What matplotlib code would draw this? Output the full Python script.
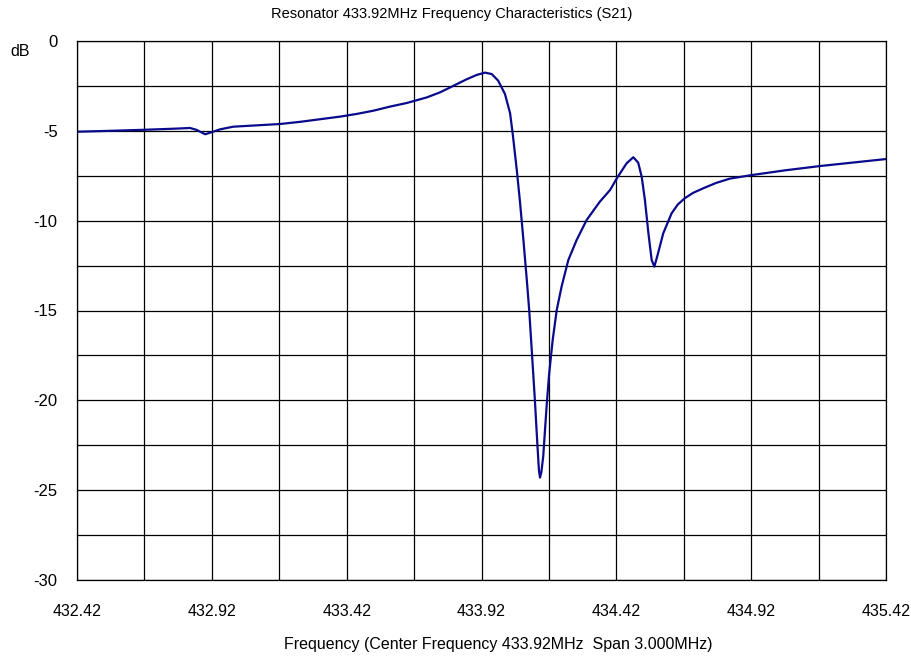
import matplotlib
matplotlib.use("Agg")
import matplotlib.pyplot as plt
import numpy as np

plt.rcParams['font.family'] = ['Liberation Sans Narrow', 'Liberation Sans', 'DejaVu Sans']

# Frequency (MHz) and S21 (dB)
freq = [432.420, 432.542, 432.672, 432.783, 432.839, 432.864, 432.895, 432.919,
        432.950, 432.999, 433.173, 433.247, 433.395, 433.457, 433.519, 433.581,
        433.643, 433.717, 433.766, 433.815, 433.865, 433.902, 433.933, 433.958,
        433.982, 434.007, 434.026, 434.036, 434.051, 434.063, 434.075, 434.088,
        434.097, 434.108, 434.118, 434.127, 434.133, 434.137, 434.142, 434.149,
        434.162, 434.171, 434.184, 434.199, 434.217, 434.242, 434.273, 434.310,
        434.359, 434.397, 434.424, 434.458, 434.483, 434.501, 434.514, 434.526,
        434.539, 434.551, 434.561, 434.573, 434.594, 434.625, 434.648, 434.674,
        434.705, 434.742, 434.790, 434.841, 434.923, 435.045, 435.175, 435.420]
s21 = [-5.05, -5.00, -4.94, -4.88, -4.84, -4.95, -5.19, -5.08,
       -4.92, -4.77, -4.62, -4.50, -4.21, -4.06, -3.88, -3.65,
       -3.45, -3.14, -2.86, -2.50, -2.13, -1.89, -1.76, -1.84,
       -2.21, -2.95, -4.02, -5.20, -7.20, -9.00, -11.00, -13.30,
       -15.00, -17.60, -20.00, -22.40, -23.90, -24.30, -24.00, -23.10,
       -20.20, -18.50, -16.64, -14.97, -13.67, -12.19, -11.07, -9.96,
       -8.94, -8.29, -7.59, -6.81, -6.47, -6.77, -7.55, -8.85,
       -10.70, -12.19, -12.56, -11.91, -10.70, -9.59, -9.10, -8.75,
       -8.45, -8.20, -7.90, -7.66, -7.46, -7.20, -6.96, -6.57]

xticks = [432.42, 432.92, 433.42, 433.92, 434.42, 434.92, 435.42]
xtick_labels = ["432.42", "432.92", "433.42", "433.92", "434.42", "434.92", "435.42"]
yticks = [0, -5, -10, -15, -20, -25, -30]
ytick_labels = ["0", "-5", "-10", "-15", "-20", "-25", "-30"]

fig = plt.figure(figsize=(9.12, 6.58), dpi=100)
ax = fig.add_axes([77/912, 1-580/658, (886-77)/912, (580-41)/658])

ax.plot(freq, s21, color='#0a0a8c', lw=1.6, solid_joinstyle='round',
        solid_capstyle='round')

ax.set_xlim(432.42, 435.42)
ax.set_ylim(-30, 0)
ax.set_xticks(xticks)
ax.set_xticklabels(xtick_labels, fontsize=11.5)
ax.set_yticks(yticks)
ax.set_yticklabels(ytick_labels, fontsize=12)
ax.set_xticks(np.arange(432.67, 435.42, 0.5), minor=True)
ax.set_yticks(np.arange(-2.5, -30, -5), minor=True)
ax.grid(True, which='both', color='black', lw=0.9)
ax.tick_params(which='both', length=0)
ax.tick_params(axis='x', pad=17)
ax.tick_params(axis='y', pad=14)
for s in ax.spines.values():
    s.set_color('black')
    s.set_linewidth(0.9)

fig.text(452/912, 1-14/658, "Resonator 433.92MHz Frequency Characteristics (S21)",
         ha='center', va='center', fontsize=10.5)
fig.text(498/912, 1-645/658, "Frequency (Center Frequency 433.92MHz  Span 3.000MHz)",
         ha='center', va='center', fontsize=11.5)
fig.text(20/912, 1-52/658, "dB", ha='center', va='center', fontsize=11.5)

fig.savefig("out.png", dpi=100)
